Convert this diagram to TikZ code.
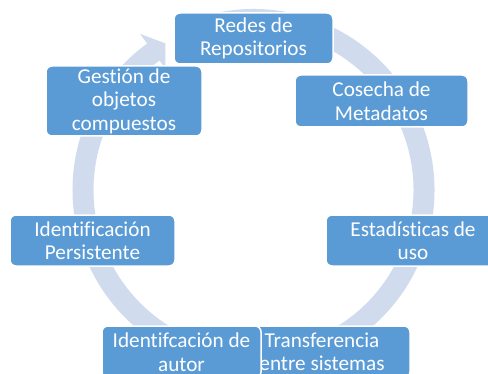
\documentclass[tikz,border=0pt]{standalone}
\usepackage{fontspec}
\setmainfont{Carlito}[Ligatures=CommonOff]
\definecolor{boxblue}{RGB}{91,155,213}
\definecolor{ringblue}{RGB}{208,219,237}
\tikzset{
    stage/.style={draw=white, line width=1.5pt, fill=boxblue, rounded corners=6pt,
        text=white, align=center, inner sep=0pt,
        font=\fontsize{21.2}{23.5}\selectfont}
}

\begin{document}
\begin{tikzpicture}[x=1pt,y=1pt]
    \useasboundingbox (0,0) rectangle (488,373);
    \clip (0,0) rectangle (488,373);

    % Circular arrow
    \begin{scope}[shift={(253.5,183)}]
        \fill[ringblue] (100:181) arc[start angle=100, end angle=-234, radius=181]
            -- (-234:193) -- (-239:171) -- (-234:150) -- (-234:160)
            arc[start angle=-234, end angle=100, radius=160] -- cycle;
    \end{scope}

    % Stages
    \node[stage, minimum width=159pt, minimum height=51pt] (redes) at (253.5,334.5) {Redes de\\Repositorios};
    \node[stage, minimum width=173pt, minimum height=52pt] (cosecha) at (381.5,272) {Cosecha de\\Metadatos};
    \node[stage, minimum width=174pt, minimum height=51pt] (estadisticas) at (413,132.5) {Estadísticas de\\uso};
    \node[stage, minimum width=176pt, minimum height=52pt] (transferencia) at (322,21) {Transferencia\\entre sistemas};
    \node[stage, minimum width=159pt, minimum height=52pt] (autor) at (181.5,21) {Identifcación de\\autor};
    \node[stage, minimum width=165pt, minimum height=51pt] (persistente) at (92.5,132.5) {Identificación\\Persistente};
    \node[stage, minimum width=156pt, minimum height=70pt] (gestion) at (124,272) {Gestión de\\objetos\\compuestos};
\end{tikzpicture}
\end{document}
